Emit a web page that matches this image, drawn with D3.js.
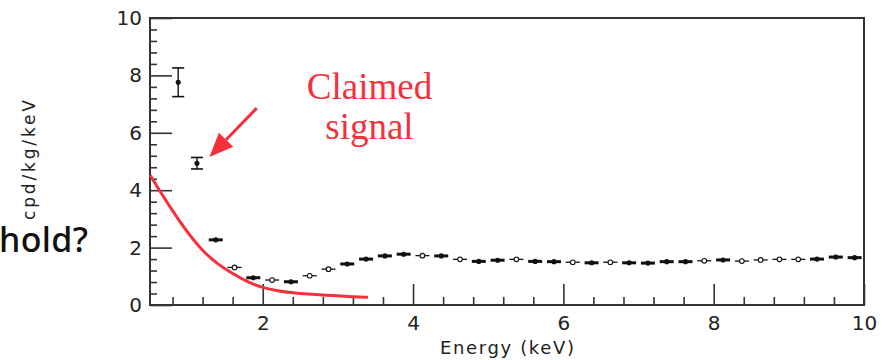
<!DOCTYPE html>
<html>
<head>
<meta charset="utf-8">
<script src="https://cdn.jsdelivr.net/npm/d3@7"></script>
<style>
  body { margin: 0; background: #fff; }
  svg { display: block; }
</style>
</head>
<body>
<script>
// Data
var energy = [0.875, 1.125, 1.375, 1.625, 1.875, 2.125, 2.375, 2.625, 2.875, 3.125,
              3.375, 3.625, 3.875, 4.125, 4.375, 4.625, 4.875, 5.125, 5.375, 5.625,
              5.875, 6.125, 6.375, 6.625, 6.875, 7.125, 7.375, 7.625, 7.875, 8.125,
              8.375, 8.625, 8.875, 9.125, 9.375, 9.625, 9.875];
var rate = [7.76, 4.94, 2.27, 1.31, 0.95, 0.87, 0.81, 1.02, 1.25, 1.43,
            1.60, 1.71, 1.77, 1.72, 1.71, 1.59, 1.52, 1.56, 1.59, 1.52,
            1.51, 1.49, 1.47, 1.49, 1.47, 1.46, 1.51, 1.51, 1.54, 1.57,
            1.53, 1.57, 1.59, 1.59, 1.60, 1.67, 1.65];
var rateErr = [0.50, 0.20, 0.06, 0.06, 0.05, 0.05, 0.05, 0.05, 0.05, 0.05,
               0.05, 0.05, 0.05, 0.05, 0.05, 0.05, 0.05, 0.05, 0.05, 0.05,
               0.05, 0.05, 0.05, 0.05, 0.05, 0.05, 0.05, 0.05, 0.05, 0.05,
               0.05, 0.05, 0.05, 0.05, 0.05, 0.06, 0.05];
var markerType = ["f","f","f","o","f","o","f","o","o","f",
                  "f","f","f","o","f","o","f","f","o","f",
                  "f","o","f","o","f","f","f","f","o","f",
                  "o","o","o","o","f","f","f"];

// red "claimed signal" curve
var curveE = [0.5, 0.6, 0.8, 1.0, 1.2, 1.4, 1.6, 1.8, 2.0, 2.2, 2.4, 2.6, 2.8, 3.0, 3.2, 3.4];
var curveV = [4.53, 4.10, 3.28, 2.52, 1.88, 1.42, 1.09, 0.80, 0.60, 0.49, 0.42, 0.38, 0.35, 0.32, 0.29, 0.27];

var xMajor = [2, 4, 6, 8, 10];
var yMajor = [0, 2, 4, 6, 8, 10];

var width = 890,
    height = 360;

var x = d3.scaleLinear().domain([0.5, 10]).range([150, 864]);
var y = d3.scaleLinear().domain([0, 10]).range([305, 18]);

var svg = d3.select("body").append("svg")
    .attr("width", width)
    .attr("height", height);

var axisColor = "#333";
var red = "#f5303c";

function isMajor(v) { return Math.abs(v / 2 - Math.round(v / 2)) < 1e-6; }
var minorX = d3.range(0.8, 10, 0.4).filter(function(v) { return !isMajor(v); });
var minorY = d3.range(0.4, 10, 0.4).filter(function(v) { return !isMajor(v); });

// minor ticks
svg.append("g")
    .attr("transform", "translate(0," + y(0) + ")")
    .call(d3.axisBottom(x).tickValues(minorX).tickSize(-8).tickFormat(""))
    .call(function(g) { g.select(".domain").remove(); });
svg.append("g")
    .attr("transform", "translate(" + x(0.5) + ",0)")
    .call(d3.axisLeft(y).tickValues(minorY).tickSize(-7).tickFormat(""))
    .call(function(g) { g.select(".domain").remove(); });

// major ticks
var xAxis = svg.append("g")
    .attr("transform", "translate(0," + y(0) + ")")
    .call(d3.axisBottom(x).tickValues(xMajor).tickSize(-21).tickPadding(11).tickFormat(d3.format("d")));
var yAxis = svg.append("g")
    .attr("transform", "translate(" + x(0.5) + ",0)")
    .call(d3.axisLeft(y).tickValues(yMajor).tickSize(-22).tickPadding(8).tickFormat(d3.format("d")));

[xAxis, yAxis].forEach(function(g) {
  g.select(".domain").remove();
  g.selectAll("text")
      .attr("fill", "#222")
      .style("font-family", "DejaVu Sans")
      .style("font-size", "20px");
});
svg.selectAll(".tick line").attr("stroke", axisColor).attr("stroke-width", 1.6);

// frame
svg.append("rect")
    .attr("x", x(0.5))
    .attr("y", y(10))
    .attr("width", x(10) - x(0.5))
    .attr("height", y(0) - y(10))
    .attr("fill", "none")
    .attr("stroke", axisColor)
    .attr("stroke-width", 2);

// axis titles
svg.append("text")
    .attr("x", (x(0.5) + x(10)) / 2)
    .attr("y", 354)
    .attr("text-anchor", "middle")
    .attr("fill", "#222")
    .attr("textLength", 134)
    .style("font-family", "DejaVu Sans")
    .style("font-size", "18px")
    .text("Energy (keV)");

svg.append("text")
    .attr("transform", "translate(35,160) rotate(-90)")
    .attr("text-anchor", "middle")
    .attr("fill", "#222")
    .attr("textLength", 120)
    .style("font-family", "DejaVu Sans")
    .style("font-size", "17px")
    .text("cpd/kg/keV");

// clipped slide text
svg.append("text")
    .attr("x", -1)
    .attr("y", 252)
    .attr("fill", "#111")
    .attr("textLength", 89)
    .style("font-family", "Noto Sans")
    .style("font-weight", 500)
    .style("font-size", "34px")
    .text("hold?");

// red curve
var pts = curveE.map(function(e, i) { return [e, curveV[i]]; });
svg.append("path")
    .datum(pts)
    .attr("fill", "none")
    .attr("stroke", red)
    .attr("stroke-width", 3)
    .attr("d", d3.line()
        .x(function(d) { return x(d[0]); })
        .y(function(d) { return y(d[1]); })
        .curve(d3.curveBasis));

// data points
var data = energy.map(function(e, i) {
  return { e: e, v: rate[i], err: rateErr[i], type: markerType[i] };
});

var pt = svg.append("g").selectAll("g")
    .data(data)
    .enter().append("g")
    .attr("transform", function(d) { return "translate(" + x(d.e) + "," + y(d.v) + ")"; });

// vertical error bars with caps
pt.append("line")
    .attr("y1", function(d) { return y(d.v + d.err) - y(d.v); })
    .attr("y2", function(d) { return y(d.v - d.err) - y(d.v); })
    .attr("stroke", "#111")
    .attr("stroke-width", 1.4);
pt.filter(function(d) { return d.err > 0.1; }).each(function(d) {
  var g = d3.select(this);
  [d.v + d.err, d.v - d.err].forEach(function(val) {
    g.append("line")
        .attr("x1", -6).attr("x2", 6)
        .attr("y1", y(val) - y(d.v)).attr("y2", y(val) - y(d.v))
        .attr("stroke", "#111")
        .attr("stroke-width", 1.6);
  });
});

// horizontal bar
pt.filter(function(d) { return d.err <= 0.1; }).append("line")
    .attr("x1", -7).attr("x2", 7)
    .attr("stroke", "#111")
    .attr("stroke-width", function(d) { return d.type === "f" ? 3 : 1.3; });

// marker
pt.append("circle")
    .attr("r", function(d) { return d.type === "f" ? 2 : 2.3; })
    .attr("fill", function(d) { return d.type === "f" ? "#111" : "#fff"; })
    .attr("stroke", "#111")
    .attr("stroke-width", 1.1);

// annotation
var ax1 = x(1.92), ay1 = y(6.86), ax2 = x(1.29), ay2 = y(5.16);
var ang = Math.atan2(ay2 - ay1, ax2 - ax1);
var headLen = 24, headW = 10;
var bx = ax2 - headLen * Math.cos(ang), by = ay2 - headLen * Math.sin(ang);
svg.append("line")
    .attr("x1", ax1).attr("y1", ay1)
    .attr("x2", bx).attr("y2", by)
    .attr("stroke", red)
    .attr("stroke-width", 3);
svg.append("path")
    .attr("d", "M" + ax2 + "," + ay2 +
        "L" + (bx + headW * Math.sin(ang)) + "," + (by - headW * Math.cos(ang)) +
        "L" + (bx - headW * Math.sin(ang)) + "," + (by + headW * Math.cos(ang)) + "Z")
    .attr("fill", red);

var note = svg.append("text")
    .attr("text-anchor", "middle")
    .attr("fill", red)
    .style("font-family", "Liberation Serif")
    .style("font-size", "37px");
note.append("tspan").attr("x", x(3.42)).attr("y", 99).text("Claimed");
note.append("tspan").attr("x", x(3.42)).attr("y", 139).text("signal");
</script>
</body>
</html>
